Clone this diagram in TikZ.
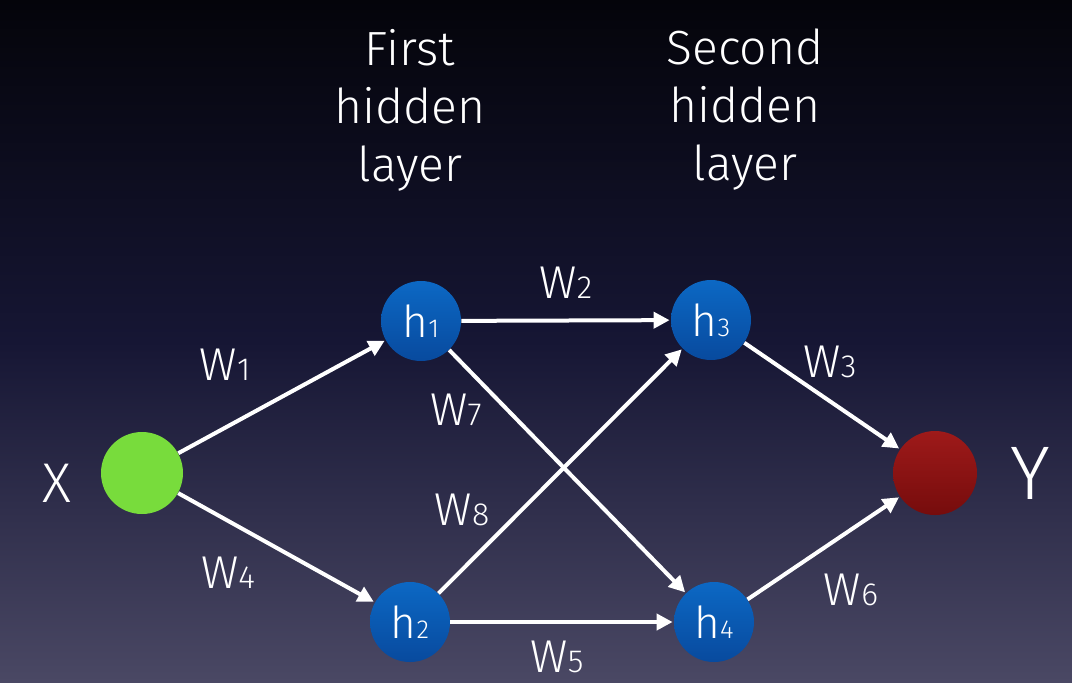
\documentclass[tikz,border=0pt]{standalone}
\usepackage{fontspec}
\setmainfont{Fira Sans}[UprightFont={* Light}]
\usetikzlibrary{arrows.meta}
\definecolor{bgtop}{RGB}{4,4,10}
\definecolor{bgmid}{RGB}{22,22,52}
\definecolor{bgbot}{RGB}{74,72,100}
\definecolor{bluetop}{RGB}{12,104,196}
\definecolor{bluebot}{RGB}{8,74,158}
\definecolor{greenfill}{RGB}{120,220,60}
\definecolor{redtop}{RGB}{158,26,26}
\definecolor{redbot}{RGB}{118,12,12}
\begin{document}
\begin{tikzpicture}[x=0.5pt,y=-0.5pt,
  hnode/.style={circle,minimum size=40pt,inner sep=0pt,top color=bluetop,bottom color=bluebot,text=white,font=\fontsize{22}{24}\selectfont},
  xnode/.style={circle,minimum size=41pt,inner sep=0pt,fill=greenfill},
  ynode/.style={circle,minimum size=42pt,inner sep=0pt,top color=redtop,bottom color=redbot},
  conn/.style={draw=white,line width=2pt,-{Triangle[length=8pt,width=8pt]},shorten >=0.5pt},
  wlab/.style={text=white,font=\fontsize{23}{25}\selectfont},
  layerlab/.style={text=white,align=center,font=\fontsize{24}{29}\selectfont},
  biglab/.style={text=white,font=\fontsize{28}{30}\selectfont}]
\useasboundingbox (0,0) rectangle (1072,682);
\shade[top color=bgtop,bottom color=bgbot,middle color=bgmid] (0,0) rectangle (1072,682);
\node[xnode] (X) at (142,473) {};
\node[hnode] (h1) at (421,321) {h{\fontsize{13}{13}\selectfont 1}};
\node[hnode] (h2) at (410,622) {h{\fontsize{13}{13}\selectfont 2}};
\node[hnode] (h3) at (711,320) {h{\fontsize{13}{13}\selectfont 3}};
\node[hnode] (h4) at (714,622) {h{\fontsize{13}{13}\selectfont 4}};
\node[ynode] (Y) at (935,473) {};
\node[biglab] (xl) at (57,483) {X};
\node[biglab,font=\fontsize{38}{40}\selectfont] (yl) at (1030,473) {Y};
\node[layerlab] (l1) at (410,110) {First\\hidden\\layer};
\node[layerlab] (l2) at (745,110) {Second\\hidden\\layer};
\draw[conn] (X) -- (h1);
\draw[conn] (X) -- (h2);
\draw[conn] (h1) -- (h3);
\draw[conn] (h1) -- (h4);
\draw[conn] (h2) -- (h3);
\draw[conn] (h2) -- (h4);
\draw[conn] (h3) -- (Y);
\draw[conn] (h4) -- (Y);
\node[wlab] (w1) at (225,365) {W{\fontsize{16}{16}\selectfont 1}};
\node[wlab] (w2) at (566,283) {W{\fontsize{16}{16}\selectfont 2}};
\node[wlab] (w3) at (830,362) {W{\fontsize{16}{16}\selectfont 3}};
\node[wlab] (w4) at (228,573) {W{\fontsize{16}{16}\selectfont 4}};
\node[wlab] (w5) at (557,657) {W{\fontsize{16}{16}\selectfont 5}};
\node[wlab] (w6) at (851,590) {W{\fontsize{16}{16}\selectfont 6}};
\node[wlab] (w7) at (456,410) {W{\fontsize{16}{16}\selectfont 7}};
\node[wlab] (w8) at (462,510) {W{\fontsize{16}{16}\selectfont 8}};
\end{tikzpicture}
\end{document}
